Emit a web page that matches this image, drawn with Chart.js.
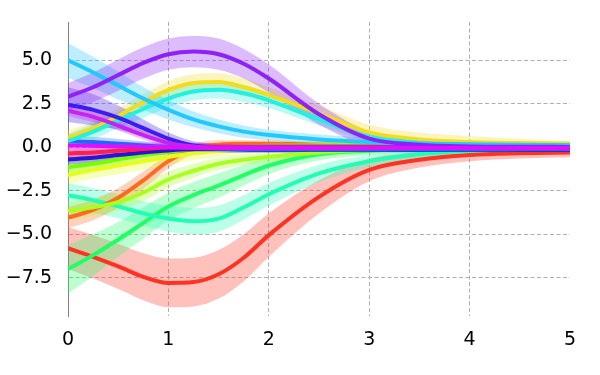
<!DOCTYPE html>
<html lang="en">
<head>
  <meta charset="UTF-8">
  <title>GP posterior curves</title>
  <script src="https://cdn.jsdelivr.net/npm/chart.js"></script>
  <style>
    body { margin: 0; background: #fff; }
    canvas { display: block; }
  </style>
</head>
<body>
  <canvas id="myChart" width="600" height="375"></canvas>

  <script>
    // x sample positions
    var xs = [0, 0.25, 0.5, 0.75, 1, 1.25, 1.5, 1.75, 2, 2.5, 3, 3.5, 4, 4.5, 5];
    var xTicks = [0, 1, 2, 3, 4, 5];
    var yTicks = [-7.5, -5, -2.5, 0, 2.5, 5];

    // means
    var redMean      = [-5.8, -6.3, -6.85, -7.45, -7.8, -7.75, -7.3, -6.35, -5.05, -2.85, -1.3, -0.72, -0.45, -0.35, -0.3];
    var greenMean    = [-7.0, -6.2, -5.3, -4.35, -3.4, -2.75, -2.2, -1.6, -1.05, -0.4, -0.2, -0.1, -0.05, 0, 0];
    var tealMean     = [-2.75, -3.05, -3.4, -3.8, -4.1, -4.25, -4.1, -3.45, -2.7, -1.5, -0.8, -0.4, -0.2, -0.1, -0.05];
    var orangeMean   = [-4.05, -3.6, -2.9, -1.9, -0.8, -0.1, 0.15, 0.2, 0.2, 0.15, 0.12, 0.1, 0.1, 0.1, 0.1];
    var limeMean     = [-3.65, -3.45, -3.15, -2.6, -1.85, -1.35, -0.95, -0.72, -0.55, -0.3, -0.15, -0.05, 0.05, 0.1, 0.1];
    var yLimeMean    = [-1.6, -1.3, -1.05, -0.8, -0.55, -0.35, -0.2, -0.1, 0.0, 0.1, 0.15, 0.18, 0.2, 0.2, 0.2];
    var gLimeMean    = [-1.15, -0.95, -0.7, -0.45, -0.25, -0.1, 0.0, 0.05, 0.08, 0.1, 0.12, 0.12, 0.12, 0.12, 0.12];
    var dBlueMean    = [-0.7, -0.6, -0.45, -0.3, -0.18, -0.12, -0.12, -0.13, -0.15, -0.15, -0.15, -0.15, -0.15, -0.15, -0.15];
    var crimsonMean  = [-0.35, -0.3, -0.2, -0.1, -0.02, 0.03, 0.05, 0.05, 0.05, 0.05, 0.05, 0.05, 0.05, 0.05, 0.05];
    var blueMean     = [0.35, 0.3, 0.2, 0.1, 0.02, -0.05, -0.08, -0.1, -0.1, -0.1, -0.1, -0.1, -0.1, -0.1, -0.1];
    var goldMean     = [0.55, 1.1, 1.8, 2.6, 3.3, 3.7, 3.75, 3.45, 3.0, 1.95, 0.85, 0.45, 0.3, 0.24, 0.2];
    var turqMean     = [0.35, 0.9, 1.55, 2.2, 2.8, 3.2, 3.3, 3.1, 2.7, 1.6, 0.6, 0.25, 0.12, 0.1, 0.1];
    var skyMean      = [5.0, 4.3, 3.55, 2.8, 2.15, 1.6, 1.2, 0.9, 0.7, 0.45, 0.3, 0.22, 0.17, 0.14, 0.12];
    var vBlueMean    = [2.45, 2.15, 1.7, 1.1, 0.5, 0.1, 0.0, -0.02, 0, 0, 0, 0, 0, 0, 0];
    var magentaMean  = [2.1, 1.75, 1.25, 0.7, 0.25, 0.05, 0, 0, 0, 0, 0, 0, 0, 0, 0];
    var purpleMean   = [2.9, 3.45, 4.15, 4.85, 5.35, 5.5, 5.35, 4.8, 3.95, 1.9, 0.5, 0.15, 0.05, 0.03, 0.02];
    var pinkMean     = [0.1, 0.08, 0.05, 0.02, 0, -0.03, -0.05, -0.05, -0.05, -0.05, -0.05, -0.05, -0.05, -0.05, -0.05];

    // band half widths
    var redStd     = [1.2, 1.25, 1.3, 1.35, 1.4, 1.4, 1.4, 1.35, 1.25, 0.95, 0.65, 0.45, 0.35, 0.3, 0.28];
    var greenStd   = [1.4, 1.2, 1.0, 0.9, 0.8, 0.75, 0.7, 0.6, 0.5, 0.35, 0.25, 0.2, 0.15, 0.12, 0.1];
    var tealStd    = [0.7, 0.7, 0.7, 0.7, 0.75, 0.75, 0.75, 0.7, 0.65, 0.5, 0.35, 0.25, 0.18, 0.12, 0.1];
    var orangeStd  = [0.6, 0.6, 0.55, 0.5, 0.4, 0.3, 0.25, 0.2, 0.2, 0.15, 0.12, 0.1, 0.1, 0.1, 0.1];
    var limeStd    = [0.5, 0.5, 0.5, 0.5, 0.45, 0.4, 0.35, 0.3, 0.3, 0.25, 0.2, 0.15, 0.12, 0.1, 0.1];
    var smallStd   = [0.3, 0.3, 0.28, 0.25, 0.22, 0.2, 0.2, 0.18, 0.17, 0.15, 0.14, 0.13, 0.12, 0.12, 0.12];
    var goldStd    = [0.4, 0.4, 0.45, 0.45, 0.5, 0.5, 0.5, 0.5, 0.45, 0.45, 0.45, 0.4, 0.35, 0.25, 0.15];
    var turqStd    = [0.4, 0.45, 0.45, 0.5, 0.5, 0.5, 0.5, 0.5, 0.45, 0.35, 0.25, 0.15, 0.1, 0.1, 0.1];
    var skyStd     = [1.0, 0.9, 0.8, 0.65, 0.55, 0.45, 0.4, 0.35, 0.3, 0.28, 0.25, 0.2, 0.15, 0.12, 0.1];
    var vBlueStd   = [1.0, 0.9, 0.7, 0.5, 0.35, 0.25, 0.2, 0.15, 0.15, 0.15, 0.12, 0.12, 0.12, 0.12, 0.12];
    var purpleStd  = [0.8, 0.85, 0.9, 0.9, 0.9, 0.9, 0.9, 0.85, 0.8, 0.6, 0.4, 0.25, 0.15, 0.12, 0.1];

    // drawn top-most first
    var series = [
      { color: [224, 16, 255], mean: pinkMean,    std: smallStd },
      { color: [140, 34, 248], mean: purpleMean,  std: purpleStd },
      { color: [200, 34, 240], mean: magentaMean, std: smallStd },
      { color: [60, 28, 240],  mean: vBlueMean,   std: vBlueStd },
      { color: [34, 200, 255], mean: skyMean,     std: skyStd },
      { color: [34, 240, 224], mean: turqMean,    std: turqStd },
      { color: [242, 220, 34], mean: goldMean,    std: goldStd },
      { color: [34, 102, 255], mean: blueMean,    std: smallStd },
      { color: [255, 32, 80],  mean: crimsonMean, std: smallStd },
      { color: [42, 20, 216],  mean: dBlueMean,   std: smallStd },
      { color: [116, 255, 0],  mean: gLimeMean,   std: smallStd },
      { color: [228, 255, 26], mean: yLimeMean,   std: limeStd },
      { color: [168, 255, 32], mean: limeMean,    std: limeStd },
      { color: [255, 106, 32], mean: orangeMean,  std: orangeStd },
      { color: [34, 255, 180], mean: tealMean,    std: tealStd },
      { color: [34, 255, 102], mean: greenMean,   std: greenStd },
      { color: [255, 51, 34],  mean: redMean,     std: redStd }
    ];

    function rgba(c, a) {
      return 'rgba(' + c[0] + ',' + c[1] + ',' + c[2] + ',' + a + ')';
    }

    var datasets = [];

    // mean lines (order 0 -> drawn above the bands)
    series.forEach(function (s) {
      datasets.push({
        data: xs.map(function (x, j) { return { x: x, y: s.mean[j] }; }),
        borderColor: rgba(s.color, 1),
        borderWidth: 4,
        pointRadius: 0,
        fill: false,
        order: 0
      });
    });

    // shaded bands: upper edge, then lower edge filled to it
    series.forEach(function (s) {
      datasets.push({
        data: xs.map(function (x, j) { return { x: x, y: s.mean[j] + s.std[j] }; }),
        borderColor: 'transparent',
        borderWidth: 0,
        pointRadius: 0,
        fill: false,
        order: 1
      });
      datasets.push({
        data: xs.map(function (x, j) { return { x: x, y: s.mean[j] - s.std[j] }; }),
        borderColor: 'transparent',
        borderWidth: 0,
        pointRadius: 0,
        backgroundColor: rgba(s.color, 0.3),
        fill: '-1',
        order: 1
      });
    });

    var gridColor = '#b0b0b0';
    var tickFont = { family: 'DejaVu Sans', size: 19 };

    var ctx = document.getElementById('myChart').getContext('2d');
    var myChart = new Chart(ctx, {
      type: 'line',
      data: { datasets: datasets },
      options: {
        responsive: false,
        animation: false,
        layout: { padding: { top: 22, right: 30, left: 0, bottom: 0 } },
        plugins: { legend: { display: false }, tooltip: { enabled: false } },
        elements: { line: { cubicInterpolationMode: 'monotone' } },
        scales: {
          x: {
            type: 'linear',
            min: 0,
            max: 5,
            afterBuildTicks: function (scale) {
              scale.ticks = xTicks.map(function (v) { return { value: v }; });
            },
            afterFit: function (scale) { scale.height = 59; },
            ticks: {
              color: '#000',
              font: tickFont,
              padding: 13,
              maxRotation: 0,
              callback: function (v) { return String(v); }
            },
            grid: {
              drawTicks: false,
              lineWidth: 1,
              color: function (c) { return c.tick && c.tick.value === 5 ? 'transparent' : gridColor; }
            },
            border: { display: false, dash: [4, 2.5] }
          },
          y: {
            type: 'linear',
            min: -9.7,
            max: 7.2,
            afterBuildTicks: function (scale) {
              scale.ticks = yTicks.map(function (v) { return { value: v }; });
            },
            afterFit: function (scale) {
              scale.width = 68;
              scale.paddingTop = 0;
              scale.paddingBottom = 0;
            },
            ticks: {
              color: '#000',
              font: tickFont,
              padding: 16,
              callback: function (v) { return v.toFixed(1).replace('-', '\u2212'); }
            },
            grid: { drawTicks: false, lineWidth: 1, color: gridColor },
            border: { display: true, color: '#808080', width: 1, dash: [4, 2.5] }
          }
        }
      }
    });
  </script>
</body>
</html>
